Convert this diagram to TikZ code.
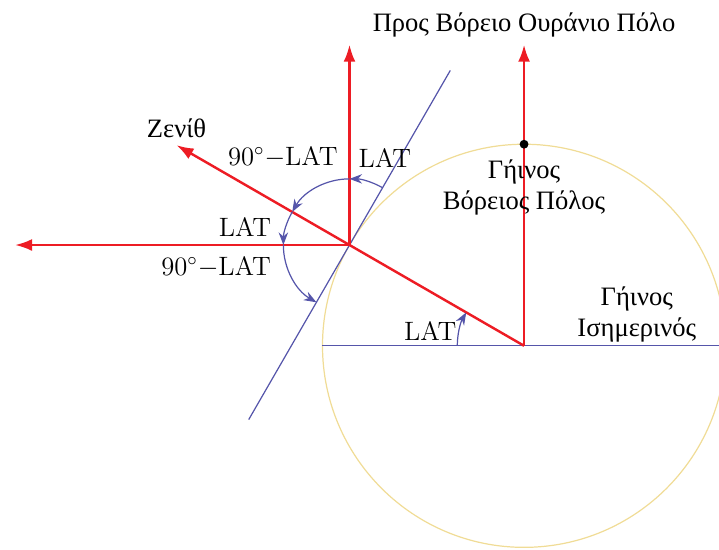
\documentclass[tikz,border=0pt]{standalone}
\usepackage{fontspec}
\newfontfamily\grfont{Liberation Serif}
\usepackage{tikz}
\usetikzlibrary{arrows.meta,calc}
\definecolor{PoleRed}{RGB}{237,28,36}
\definecolor{LineBlue}{RGB}{85,85,170}
\definecolor{EarthYellow}{RGB}{240,220,150}
\tikzset{
  redaxis/.style={draw=PoleRed, line width=1.1pt, -{Latex[length=2.7mm,width=1.9mm]}},
  redline/.style={draw=PoleRed, line width=1.1pt},
  blueline/.style={draw=LineBlue, line width=0.55pt},
  anglearc/.style={draw=LineBlue, line width=0.55pt, -{Stealth[length=2mm,width=1.5mm]}},
  earth/.style={draw=EarthYellow, line width=0.55pt},
  lbl/.style={inner sep=1pt, font=\large},
  grlbl/.style={inner sep=1pt, align=center, font=\large\grfont}
}
\begin{document}
\begin{tikzpicture}[x=1cm,y=1cm]
\useasboundingbox (-8.32,-3.24) rectangle (3.095,5.49);
% points
\coordinate (C) at (0,0);
\coordinate (P) at (150:3.2);
\coordinate (NP) at (0,3.2);
\coordinate (Ntip) at (0,4.78);
\coordinate (Ztip) at ($(P)+(150:3.17)$);
\coordinate (Vtip) at ($(P)+(0,3.18)$);
\coordinate (Htip) at ($(P)+(-5.31,0)$);
\coordinate (Ttop) at ($(P)+(60:3.2)$);
\coordinate (Tbot) at ($(P)+(240:3.2)$);
\coordinate (Eleft) at (-3.2,0);
\coordinate (Eright) at (3.2,0);
% earth
\draw[earth] (C) circle (3.2);
\draw[blueline] (Eleft) -- (Eright);
\draw[blueline] (Tbot) -- (Ttop);
% axes
\draw[redaxis] (C) -- (Ntip);
\draw[redline] (C) -- (P);
\draw[redaxis] (P) -- (Ztip);
\draw[redaxis] (P) -- (Vtip);
\draw[redaxis] (P) -- (Htip);
\fill (NP) circle (2pt);
% angles
\draw[anglearc] ($(P)+(60:1.05)$) arc[start angle=60, end angle=90, radius=1.05];
\draw[anglearc] ($(P)+(90:1.05)$) arc[start angle=90, end angle=150, radius=1.05];
\draw[anglearc] ($(P)+(150:1.05)$) arc[start angle=150, end angle=180, radius=1.05];
\draw[anglearc] ($(P)+(180:1.05)$) arc[start angle=180, end angle=240, radius=1.05];
\draw[anglearc] ($(C)+(180:1.06)$) arc[start angle=180, end angle=150, radius=1.06];
% labels
\node[grlbl, above=2pt] (celestial) at (Ntip) {Προς Βόρειο Ουράνιο Πόλο};
\node[grlbl] (northpole) at (0,2.52) {Γήινος\\Βόρειος Πόλος};
\node[grlbl] (equator) at (1.79,0.49) {Γήινος\\Ισημερινός};
\node[grlbl, above=2pt] (zenith) at (Ztip) {Ζενίθ};
\node[lbl] (colatA) at (-3.83,3.0) {$90^\circ{-}$LAT};
\node[lbl] (latA) at (-2.21,2.98) {LAT};
\node[lbl] (latB) at (-4.43,1.89) {LAT};
\node[lbl] (colatB) at (-4.89,1.25) {$90^\circ{-}$LAT};
\node[lbl] (latC) at (-1.49,0.24) {LAT};
\end{tikzpicture}
\end{document}
